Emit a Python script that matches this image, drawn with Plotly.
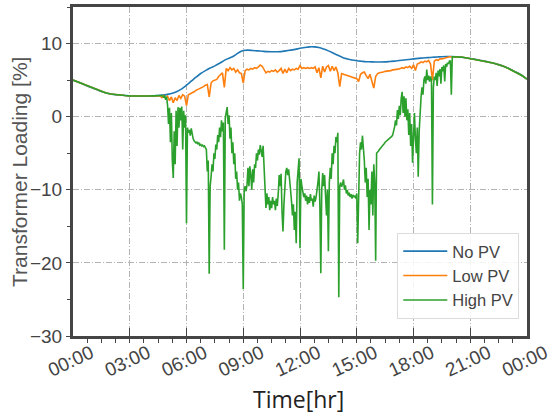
import numpy as np
import plotly.graph_objects as go

# ---------------- data ----------------
# shared smooth profile (No PV), sampled every 15 min, 00:00 .. 24:00
base_hours = [round(0.25 * i, 2) for i in range(97)]
no_pv = [
    5.0, 4.75, 4.5, 4.2, 3.95, 3.7, 3.45, 3.25, 3.1, 3.0, 2.95, 2.9,
    2.85, 2.83, 2.8, 2.8, 2.82, 2.85, 2.9, 2.95, 3.05, 3.2, 3.45, 3.8,
    4.3, 4.85, 5.4, 5.9, 6.3, 6.65, 6.95, 7.3, 7.7, 8.0, 8.3, 8.75,
    9.05, 9.1, 9.05, 9.0, 8.95, 8.9, 8.88, 8.88, 8.9, 9.0, 9.1, 9.2,
    9.35, 9.45, 9.55, 9.55, 9.45, 9.25, 9.0, 8.7, 8.4, 8.1, 7.9, 7.75,
    7.65, 7.58, 7.52, 7.5, 7.48, 7.48, 7.5, 7.55, 7.6, 7.68, 7.75, 7.82,
    7.9, 7.97, 8.03, 8.08, 8.12, 8.16, 8.2, 8.22, 8.22, 8.2, 8.15, 8.05,
    7.95, 7.85, 7.72, 7.6, 7.45, 7.3, 7.12, 6.9, 6.62, 6.3, 6.0, 5.6,
    5.12,
]

# Low PV, daytime part sampled every 6 min, 04:36 .. 20:12
low_hours = [round(4.6 + 0.1 * i, 2) for i in range(157)]
low_pv = [
    2.85, 2.6, 2.9, 2.5, 2.8, 2.2, 2.7, 1.9, 2.6, 2.2,
    2.9, 2.5, 3.0, 2.8, 1.5, 3.0, 3.1, 3.3, 3.4, 3.6,
    3.7, 3.8, 3.9, 4.1, 4.3, 4.4, 2.7, 4.6, 4.9, 5.0,
    5.1, 5.5, 5.8, 6.0, 4.0, 6.6, 6.3, 6.7, 6.4, 6.6,
    6.1, 6.4, 6.0, 5.9, 4.6, 6.3, 6.5, 6.4, 6.6, 6.5,
    6.7, 6.6, 6.8, 7.05, 6.9, 6.5, 6.0, 6.2, 6.1, 6.3,
    6.2, 6.4, 6.1, 6.3, 6.6, 5.9, 6.5, 6.0, 6.6, 6.3,
    6.5, 6.4, 6.6, 6.5, 7.0, 6.6, 6.7, 6.6, 6.7, 6.6,
    6.7, 6.6, 6.8, 6.0, 6.7, 5.3, 6.9, 6.1, 6.8, 7.0,
    6.2, 6.9, 6.3, 6.8, 6.0, 4.1, 5.9, 5.8, 5.7, 5.6,
    5.5, 5.4, 5.3, 5.2, 5.2, 4.8, 5.8, 6.0, 6.1, 5.6,
    5.2, 5.8, 5.0, 3.9, 5.5, 5.9, 6.0, 6.0, 6.1, 6.2,
    6.2, 6.3, 6.3, 6.4, 6.4, 6.5, 6.5, 6.6, 6.7, 6.6,
    6.8, 6.7, 6.9, 6.6, 7.1, 6.3, 7.2, 7.3, 7.5, 7.4,
    7.6, 7.5, 7.7, 7.2, 5.0, 7.6, 7.8, 7.7, 7.9, 7.9,
    8.0, 8.0, 8.1, 8.2, 8.2, 8.2, 8.2,
]

# High PV, daytime part sampled every 3 min, 04:36 .. 20:03
high_hours = [round(4.6 + 0.05 * i, 2) for i in range(310)]
high_pv = [
    # 4.60 - 4.95
    2.9, 2.95, 2.9, 2.85, 2.6, 2.9, 2.3, 2.7,
    # 5.00 - 5.95
    1.5, -1.0, 1.2, -3.5, 0.5, -6.0, -8.4, -2.0, -6.5, 0.8,
    -4.0, 1.3, -1.5, 1.2, -0.5, 1.4, -4.5, 0.8, -1.5, 0.2,
    # 6.00 - 6.95
    -14.6, -1.5, -2.2, -1.8, -2.6, -1.6, -2.4, -3.0, -3.3, -3.5,
    -3.6, -3.5, -3.7, -3.6, -3.9, -3.8, -4.0, -3.9, -4.1, -4.0,
    # 7.00 - 7.95
    -4.2, -4.5, -7.5, -6.0, -21.5, -9.5, -8.2, -6.5, -7.5, -5.0,
    -5.8, -3.8, -4.5, -2.5, -3.5, -1.5, -2.8, -0.5, -2.0, -0.8,
    # 8.00 - 8.95
    -18.2, -0.2, 0.6, 1.3, -1.0, 0.2, -3.0, -1.5, -5.0, -3.5,
    -6.5, -5.0, -8.5, -7.5, -10.0, -9.0, -11.5, -10.5, -11.0, -12.0,
    # 9.00 - 9.95
    -23.6, -10.0, -9.5, -10.2, -9.3, -7.0, -9.5, -6.8, -8.0, -10.0,
    -7.2, -9.0, -6.5, -7.0, -5.0, -6.0, -4.5, -5.2, -3.9, -4.5,
    # 10.00 - 10.95
    -5.5, -4.0, -7.0, -9.5, -12.5, -10.5, -12.0, -11.0, -12.8, -11.5,
    -12.5, -11.0, -12.0, -11.5, -12.8, -11.2, -12.2, -10.5, -8.0, -9.5,
    # 11.00 - 11.95
    -7.8, -13.0, -15.7, -12.0, -9.0, -7.5, -7.0, -8.0, -7.2, -8.3,
    -10.0, -11.5, -13.5, -12.0, -15.5, -13.0, -17.3, -9.0, -6.5, -5.7,
    # 12.00 - 12.95
    -18.0, -8.5, -9.5, -10.5, -11.0, -10.5, -11.5, -10.8, -12.0, -11.0,
    -11.8, -10.6, -11.5, -11.2, -12.3, -10.8, -11.6, -11.0, -10.2, -9.0,
    # 13.00 - 13.95
    -7.5, -12.0, -21.4, -10.0, -7.7, -9.5, -8.0, -11.0, -13.5, -10.0,
    -18.4, -9.0, -7.0, -8.5, -5.0, -6.5, -4.0, -5.0, -2.8, -3.5,
    # 14.00 - 14.95
    -2.2, -24.7, -9.5, -9.0, -9.6, -9.2, -8.6, -10.0, -9.4, -10.5,
    -10.0, -10.8, -10.4, -11.0, -10.6, -11.2, -10.7, -11.0, -10.8, -11.2,
    # 15.00 - 15.95
    -10.5, -17.3, -8.0, -5.0, -3.5, -4.5, -2.6, -4.0, -6.0, -9.0,
    -7.0, -11.0, -8.5, -15.5, -10.0, -12.0, -7.5, -13.5, -6.5, -9.0,
    # 16.00 - 16.95
    -19.7, -5.0, -4.9, -4.7, -4.5, -4.4, -4.2, -4.0, -3.9, -3.7,
    -3.5, -3.4, -3.2, -3.1, -3.0, -2.9, -2.8, -2.7, -2.5, -2.0,
    # 17.00 - 17.95
    -1.4, -0.5, -1.2, 0.9, -0.3, 1.5, 0.2, 2.5, 3.4, 0.5,
    2.8, 0.0, 2.5, -0.5, 1.0, -2.5, 0.5, -4.0, -1.0, -6.3,
    # 18.00 - 18.95
    -2.0, 0.5, -3.0, -5.0, -1.5, -8.2, -2.0, 1.5, 2.7, 4.0,
    3.0, 5.0, 5.5, 4.5, 6.45, 5.0, 5.6, 4.8, 5.5, 5.0,
    # 19.00 - 19.95
    -12.0, 4.0, 5.5, 5.0, 6.0, 4.2, 6.3, 5.5, 6.5, 4.5,
    6.8, 6.2, 7.0, 4.8, 7.2, 6.8, 7.4, 7.2, 7.6, 7.6,
    # 20.00 - 20.05
    3.0, 8.2,
]

tick_hours = [0, 3, 6, 9, 12, 15, 18, 21, 24]
tick_labels = ["00:00", "03:00", "06:00", "09:00", "12:00", "15:00",
               "18:00", "21:00", "00:00"]
y_ticks = [-30, -20, -10, 0, 10]

series_names = ["No PV", "Low PV", "High PV"]
series_colors = ["#1f77b4", "#ff7f0e", "#2ca02c"]

# ---------------- assemble ----------------
def with_night(hours, values):
    """Prepend/append the shared night-time profile around a daytime part."""
    h0, h1 = hours[0], hours[-1]
    head = [(h, v) for h, v in zip(base_hours, no_pv) if h < h0]
    tail = [(h, v) for h, v in zip(base_hours, no_pv) if h > h1]
    hh = [p[0] for p in head] + list(hours) + [p[0] for p in tail]
    vv = [p[1] for p in head] + list(values) + [p[1] for p in tail]
    return hh, vv

low_x, low_y = with_night(low_hours, low_pv)
high_x, high_y = with_night(high_hours, high_pv)

fig = go.Figure()
fig.add_trace(go.Scatter(x=base_hours, y=no_pv, mode="lines", name=series_names[0],
                         line=dict(color=series_colors[0], width=1.6, shape="spline")))
fig.add_trace(go.Scatter(x=low_x, y=low_y, mode="lines", name=series_names[1],
                         line=dict(color=series_colors[1], width=1.6)))
fig.add_trace(go.Scatter(x=high_x, y=high_y, mode="lines", name=series_names[2],
                         line=dict(color=series_colors[2], width=1.6)))

frame_color = "#454545"
grid_color = "#b3b3b3"
sans = "Liberation Sans, Arial, sans-serif"
tick_font = dict(family=sans, size=19, color="#444444")

fig.update_layout(
    width=553, height=417,
    margin=dict(l=73, r=26, t=7, b=81, autoexpand=False),
    paper_bgcolor="white", plot_bgcolor="white",
    showlegend=True,
    legend=dict(
        x=0.983, y=0.052, xanchor="right", yanchor="bottom",
        bgcolor="rgba(255,255,255,0.85)", bordercolor="#dcdcdc", borderwidth=1,
        font=dict(family=sans, size=16.5, color="#444444"),
        tracegroupgap=0, itemwidth=44,
    ),
    annotations=[
        dict(text="Time[hr]", xref="paper", yref="paper", x=0.496, y=-0.19,
             xanchor="center", yanchor="middle", showarrow=False,
             font=dict(family="Open Sans, sans-serif", size=23, color="#222222")),
        dict(text="Transformer Loading [%]", xref="paper", yref="paper",
             x=-0.118, y=0.5, xanchor="center", yanchor="middle", textangle=-90,
             showarrow=False, font=dict(family=sans, size=21, color="#555555")),
    ],
)

fig.update_xaxes(
    range=[0, 24], automargin=False,
    tickmode="array", tickvals=tick_hours, ticktext=tick_labels,
    tickangle=-25, ticklabelshift=18, ticklabelstandoff=-4,
    ticklabeloverflow="allow",
    tickfont=tick_font,
    ticks="inside", ticklen=8, tickwidth=1.2, tickcolor=frame_color,
    showgrid=True, gridcolor=grid_color, gridwidth=1, griddash="6px,2px,1px,2px",
    minor=dict(ticks="outside", dtick=0.75, tick0=0, ticklen=4, tickwidth=1,
               tickcolor=frame_color, showgrid=False),
    showline=True, linecolor=frame_color, linewidth=3, mirror=True,
    zeroline=False,
)

fig.update_yaxes(
    range=[-30, 15], automargin=False,
    tickmode="array", tickvals=y_ticks,
    tickfont=tick_font,
    ticks="outside", ticklen=4, tickwidth=1, tickcolor=frame_color,
    showgrid=True, gridcolor=grid_color, gridwidth=1, griddash="6px,2px,1px,2px",
    minor=dict(ticks="outside", dtick=5, tick0=0, ticklen=3, tickwidth=1,
               tickcolor=frame_color, showgrid=False),
    showline=True, linecolor=frame_color, linewidth=3, mirror=True,
    zeroline=False,
)

fig.write_html("out.html", config={"displayModeBar": False},
               post_script="document.body.style.margin='0';")
